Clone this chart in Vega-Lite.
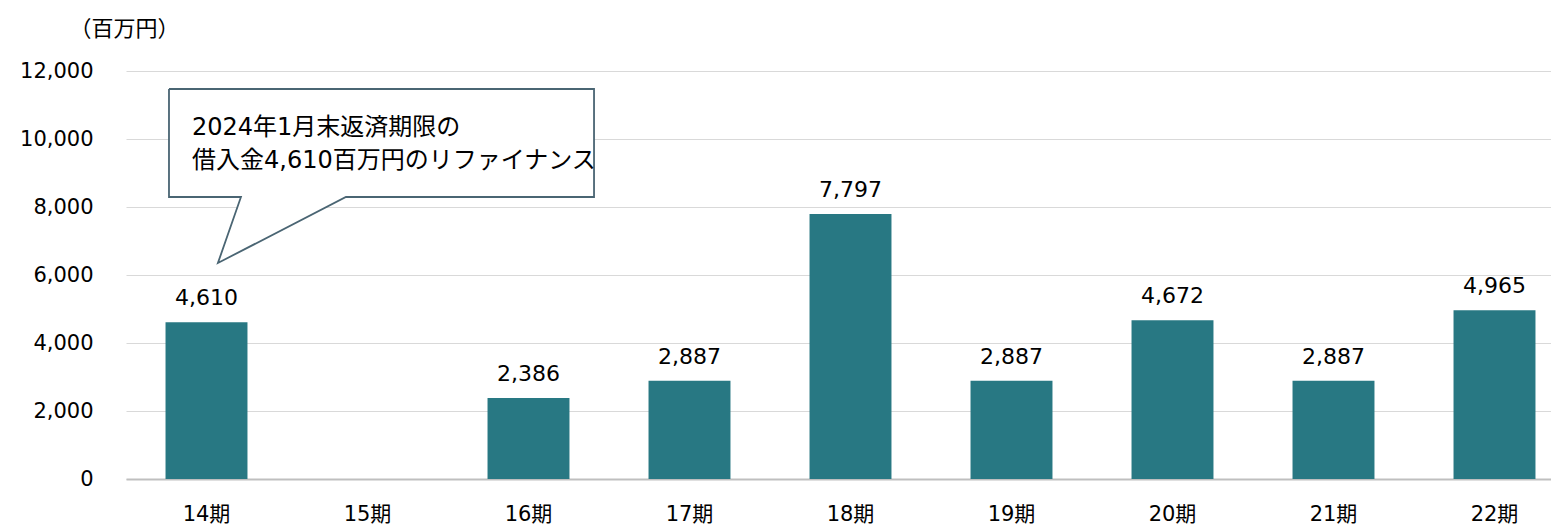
{
  "$schema": "https://vega.github.io/schema/vega-lite/v6.json",
  "autosize": {"type": "none"},
  "width": 1449,
  "height": 408,
  "padding": {"left": 126, "top": 71, "right": 0, "bottom": 48},
  "background": "white",
  "config": {"view": {"stroke": null}, "font": "DejaVu Sans, Noto Sans CJK JP"},
  "datasets": {
    "bars": [
      {"period": "14期", "value": 4610},
      {"period": "15期", "value": null},
      {"period": "16期", "value": 2386},
      {"period": "17期", "value": 2887},
      {"period": "18期", "value": 7797},
      {"period": "19期", "value": 2887},
      {"period": "20期", "value": 4672},
      {"period": "21期", "value": 2887},
      {"period": "22期", "value": 4965}
    ],
    "callout": [
      {"seq": 1, "cx": 0.267, "cy": 11470},
      {"seq": 2, "cx": 2.907, "cy": 11470},
      {"seq": 3, "cx": 2.907, "cy": 8294},
      {"seq": 4, "cx": 1.366, "cy": 8294},
      {"seq": 5, "cx": 0.571, "cy": 6353},
      {"seq": 6, "cx": 0.714, "cy": 8294},
      {"seq": 7, "cx": 0.267, "cy": 8294},
      {"seq": 8, "cx": 0.267, "cy": 11470}
    ],
    "note": [
      {"tx": 0.41, "ty": 10323, "line": "2024年1月末返済期限の"},
      {"tx": 0.41, "ty": 9367, "line": "借入金4,610百万円のリファイナンス"}
    ]
  },
  "layer": [
    {
      "data": {"name": "bars"},
      "mark": {"type": "bar", "color": "#287883"},
      "encoding": {
        "x": {
          "field": "period", "type": "nominal",
          "scale": {"domain": ["14期","15期","16期","17期","18期","19期","20期","21期","22期"], "paddingInner": 0.491, "paddingOuter": 0.2455},
          "axis": {"title": null, "labelAngle": 0, "labelFontSize": 21, "labelColor": "#000000", "labelPadding": 24, "ticks": false, "tickSize": 0, "domainColor": "#bfbfbf", "domainWidth": 2, "grid": false, "labelFont": "DejaVu Sans, Noto Sans CJK JP"}
        },
        "y": {
          "field": "value", "type": "quantitative",
          "scale": {"domain": [0, 12000], "nice": false},
          "axis": {"title": "（百万円）", "titleAngle": 0, "titleAlign": "left", "titleBaseline": "middle", "titleX": -57, "titleY": -43, "titleFontSize": 22, "titleFontWeight": "normal", "titleColor": "#000000", "titleFont": "Noto Sans CJK JP",
                   "values": [0, 2000, 4000, 6000, 8000, 10000, 12000], "format": ",.0f", "labelFontSize": 21, "labelColor": "#000000", "labelPadding": 33, "ticks": false, "tickSize": 0, "domain": false, "gridColor": "#d9d9d9", "gridWidth": 1}
        }
      }
    },
    {
      "data": {"name": "bars"},
      "mark": {"type": "text", "baseline": "alphabetic", "dy": -17, "fontSize": 22, "color": "#000000"},
      "encoding": {
        "x": {"field": "period", "type": "nominal", "scale": {"domain": ["14期","15期","16期","17期","18期","19期","20期","21期","22期"], "paddingInner": 0.491, "paddingOuter": 0.2455}, "axis": null},
        "y": {"field": "value", "type": "quantitative", "scale": {"domain": [0, 12000], "nice": false}, "axis": null},
        "text": {"field": "value", "type": "quantitative", "format": ","}
      }
    },
    {
      "data": {"name": "callout"},
      "mark": {"type": "line", "fill": "white", "stroke": "#4a6573", "strokeWidth": 1.8, "strokeJoin": "miter"},
      "encoding": {
        "x": {"field": "cx", "type": "quantitative", "scale": {"domain": [0, 9], "nice": false, "zero": false}, "axis": null},
        "y": {"field": "cy", "type": "quantitative", "scale": {"domain": [0, 12000], "nice": false}, "axis": null},
        "order": {"field": "seq", "type": "quantitative"}
      }
    },
    {
      "data": {"name": "note"},
      "mark": {"type": "text", "align": "left", "baseline": "middle", "fontSize": 24, "color": "#000000"},
      "encoding": {
        "x": {"field": "tx", "type": "quantitative", "scale": {"domain": [0, 9], "nice": false, "zero": false}, "axis": null},
        "y": {"field": "ty", "type": "quantitative", "scale": {"domain": [0, 12000], "nice": false}, "axis": null},
        "text": {"field": "line", "type": "nominal"}
      }
    }
  ],
  "resolve": {"scale": {"x": "independent", "y": "independent"}, "axis": {"x": "independent", "y": "independent"}}
}
